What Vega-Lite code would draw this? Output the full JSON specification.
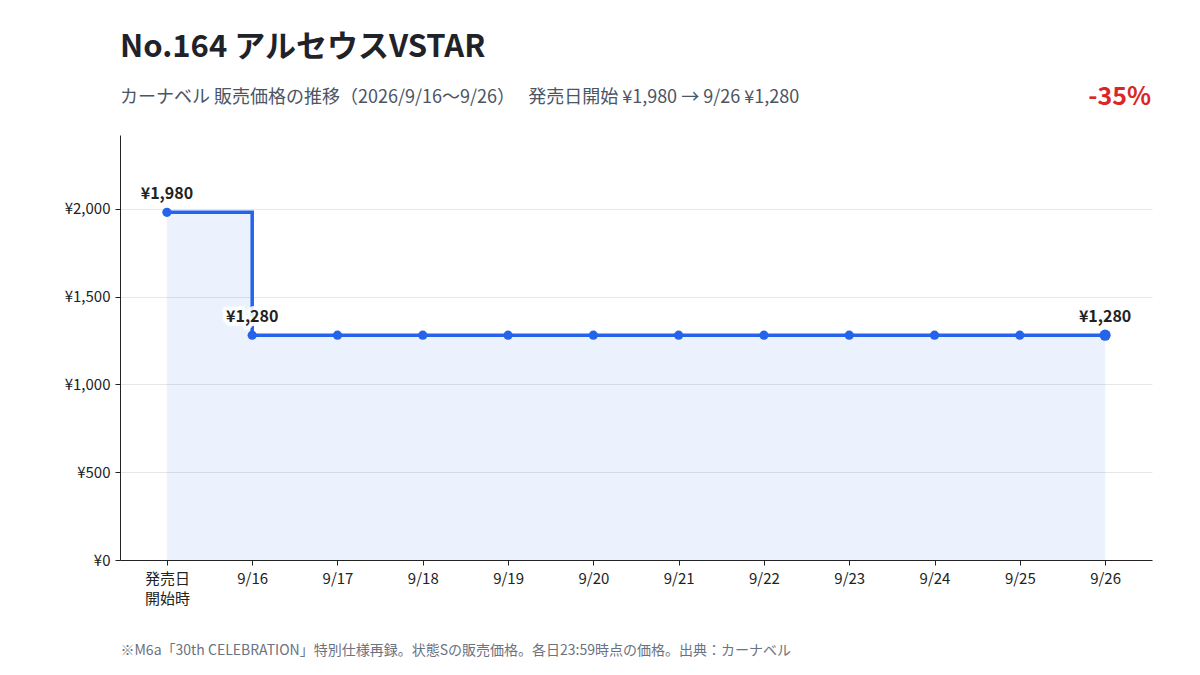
{
  "$schema": "https://vega.github.io/schema/vega-lite/v6.json",
  "width": 1032,
  "height": 425,
  "autosize": {"type": "none"},
  "padding": {"left": 120, "top": 135, "right": 48, "bottom": 115},
  "background": "white",
  "config": {
    "font": "Noto Sans CJK JP",
    "view": {"stroke": null},
    "axis": {"labelFont": "Noto Sans CJK JP", "titleFont": "Noto Sans CJK JP"}
  },
  "title": {
    "text": "No.164 アルセウスVSTAR",
    "subtitle": "カーナベル 販売価格の推移（2026/9/16〜9/26）　  発売日開始 ¥1,980 → 9/26 ¥1,280",
    "anchor": "start",
    "frame": "group",
    "fontSize": 31,
    "fontWeight": "bold",
    "color": "#1f2329",
    "subtitleFontSize": 18,
    "subtitleColor": "#4b5563",
    "subtitlePadding": 25,
    "offset": -23
  },
  "data": {
    "values": [
      {"label": "発売日\n開始時", "price": 1980},
      {"label": "9/16", "price": 1280},
      {"label": "9/17", "price": 1280},
      {"label": "9/18", "price": 1280},
      {"label": "9/19", "price": 1280},
      {"label": "9/20", "price": 1280},
      {"label": "9/21", "price": 1280},
      {"label": "9/22", "price": 1280},
      {"label": "9/23", "price": 1280},
      {"label": "9/24", "price": 1280},
      {"label": "9/25", "price": 1280},
      {"label": "9/26", "price": 1280}
    ]
  },
  "encoding": {
    "x": {
      "field": "label",
      "type": "ordinal",
      "sort": null,
      "scale": {"type": "point", "padding": 0.55},
      "axis": {
        "title": "※M6a「30th CELEBRATION」特別仕様再録。状態Sの販売価格。各日23:59時点の価格。出典：カーナベル",
        "titleFontSize": 14,
        "titleFontWeight": "normal",
        "titleColor": "#6b7280",
        "titleAnchor": "start",
        "titleAlign": "left",
        "titleBaseline": "alphabetic",
        "titleX": 0,
        "titleY": 94,
        "labelAngle": 0,
        "labelFontSize": 15,
        "labelLineHeight": 20,
        "labelColor": "#222222",
        "labelPadding": 6,
        "labelExpr": "split(datum.label, '\\n')",
        "domainColor": "#222222",
        "tickColor": "#222222",
        "tickSize": 5,
        "grid": false
      }
    },
    "y": {
      "field": "price",
      "type": "quantitative",
      "scale": {"domain": [0, 2420], "nice": false},
      "axis": {
        "title": null,
        "values": [0, 500, 1000, 1500, 2000],
        "labelExpr": "'¥' + format(datum.value, ',')",
        "labelFontSize": 15,
        "labelPadding": 5,
        "labelColor": "#222222",
        "domainColor": "#222222",
        "tickColor": "#222222",
        "tickSize": 5,
        "gridColor": "#e5e7eb",
        "gridWidth": 1
      }
    }
  },
  "layer": [
    {
      "mark": {"type": "area", "interpolate": "step-after", "color": "#2563eb", "opacity": 0.09}
    },
    {
      "mark": {"type": "line", "interpolate": "step-after", "color": "#2563eb", "strokeWidth": 3.5}
    },
    {
      "mark": {"type": "point", "filled": true, "color": "#2563eb", "opacity": 1, "size": 85},
      "transform": [{"filter": "datum.label != '9/26'"}]
    },
    {
      "mark": {"type": "point", "filled": true, "color": "#2563eb", "opacity": 1, "size": 125},
      "transform": [{"filter": "datum.label == '9/26'"}]
    },
    {
      "mark": {"type": "text", "dy": -18, "fontSize": 16, "fontWeight": "bold", "color": "white", "stroke": "white", "strokeWidth": 8, "strokeOpacity": 0.9, "strokeJoin": "round"},
      "transform": [
        {"filter": "datum.label == '9/16'"},
        {"calculate": "'¥' + format(datum.price, ',')", "as": "price_text"}
      ],
      "encoding": {"text": {"field": "price_text", "type": "nominal"}}
    },
    {
      "mark": {"type": "text", "dy": -18, "fontSize": 16, "fontWeight": "bold", "color": "#222222"},
      "transform": [
        {"filter": "datum.label == '9/16' || datum.label == '9/26' || datum.price == 1980"},
        {"calculate": "'¥' + format(datum.price, ',')", "as": "price_text"}
      ],
      "encoding": {"text": {"field": "price_text", "type": "nominal"}}
    },
    {
      "mark": {"type": "text", "align": "right", "baseline": "alphabetic", "dx": 46, "dy": -30, "fontSize": 25, "fontWeight": "bold", "color": "#dc2626"},
      "data": {"values": [{"label": "9/26", "top": 2420, "change": "-35%"}]},
      "encoding": {
        "y": {"field": "top", "type": "quantitative"},
        "text": {"field": "change", "type": "nominal"}
      }
    }
  ]
}
